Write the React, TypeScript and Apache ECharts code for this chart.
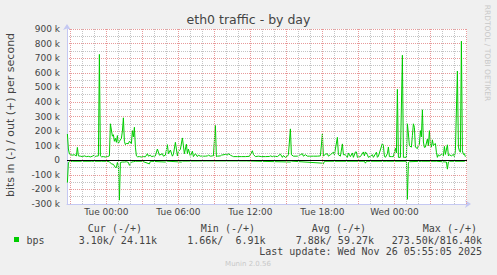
import { useEffect, useRef } from 'react';
import * as echarts from 'echarts';

// Time in minutes relative to Tue 00:00 (5-minute samples), values in kbit/s
const outData: [number, number][] = [
  [-195, 180], [-190, 77], [-185, 43], [-180, 38], [-170, 35], [-160, 38], [-150, 30], [-145, 88], [-140, 30],
  [-130, 28], [-120, 25], [-110, 30], [-100, 25], [-90, 27], [-80, 23], [-70, 28], [-60, 35], [-55, 25], [-50, 28],
  [-40, 30], [-35, 726], [-30, 30], [-25, 24], [-15, 25], [-5, 22], [5, 25], [15, 30], [20, 250], [30, 165],
  [35, 175], [40, 130], [45, 150], [50, 123], [55, 169], [60, 114], [65, 130], [75, 150], [80, 200], [85, 291],
  [90, 130], [95, 107], [100, 115], [110, 114], [115, 130], [125, 114], [130, 203], [135, 160], [140, 226],
  [145, 90], [150, 30], [155, 24], [165, 25], [175, 22], [185, 25], [195, 24], [205, 45], [210, 28], [220, 35],
  [225, 25], [235, 28], [245, 30], [255, 77], [265, 35], [280, 45], [285, 28], [295, 35], [305, 107], [310, 45],
  [320, 70], [330, 28], [335, 40], [345, 123], [355, 30], [360, 60], [370, 75], [380, 153], [390, 45], [400, 110],
  [405, 45], [410, 77], [420, 28], [430, 62], [435, 25], [445, 45], [455, 25], [460, 35], [470, 28], [480, 30],
  [485, 28], [495, 28], [505, 30], [510, 35], [520, 28], [530, 30], [535, 30], [545, 238], [550, 25], [555, 28],
  [570, 30], [575, 35], [595, 40], [605, 35], [610, 45], [620, 35], [630, 28], [635, 25], [655, 25], [675, 25],
  [695, 25], [715, 27], [730, 65], [735, 40], [745, 25], [760, 28], [775, 25], [795, 25], [815, 26], [820, 30],
  [830, 25], [835, 28], [845, 27], [855, 25], [870, 42], [880, 20], [885, 32], [895, 20], [905, 28], [910, 38],
  [920, 215], [925, 38], [935, 28], [955, 28], [970, 38], [980, 45], [985, 28], [995, 38], [1005, 28], [1015, 28],
  [1035, 28], [1055, 28], [1070, 30], [1080, 180], [1085, 28], [1095, 42], [1105, 45], [1110, 28], [1120, 38],
  [1135, 55], [1140, 38], [1155, 157], [1160, 38], [1170, 28], [1180, 112], [1185, 38], [1195, 38], [1205, 20],
  [1210, 50], [1220, 25], [1230, 50], [1235, 20], [1245, 57], [1250, 57], [1255, 20], [1270, 25], [1285, 57],
  [1290, 30], [1295, 57], [1305, 38], [1310, 20], [1320, 28], [1330, 38], [1335, 20], [1350, 55], [1355, 20],
  [1360, 28], [1380, 116], [1385, 100], [1390, 28], [1395, 20], [1405, 45], [1410, 91], [1415, 25], [1425, 25],
  [1435, 25], [1445, 82], [1450, 50], [1455, 486], [1460, 20], [1470, 20], [1480, 720], [1485, 20], [1490, 20],
  [1500, 20], [1505, 250], [1510, 180], [1515, 100], [1525, 90], [1530, 170], [1535, 250], [1540, 226], [1545, 90],
  [1555, 80], [1560, 100], [1565, 110], [1570, 203], [1575, 160], [1580, 346], [1585, 125], [1590, 88], [1595, 90],
  [1605, 145], [1610, 100], [1615, 203], [1620, 110], [1625, 90], [1630, 140], [1635, 100], [1640, 110], [1645, 115],
  [1650, 55], [1655, 20], [1660, 38], [1665, 30], [1675, 40], [1685, 30], [1690, 95], [1695, 40], [1705, 106],
  [1710, 30], [1715, 38], [1725, 30], [1735, 40], [1740, 25], [1745, 65], [1755, 612], [1760, 90], [1765, 65],
  [1770, 55], [1775, 816.4], [1780, 65], [1785, 40], [1790, 45], [1795, 24.11],
];

const inData: [number, number][] = [
  [-195, -153], [-190, -15], [-185, -10], [-170, -7], [-125, -7], [-75, -7], [-25, -7], [0, -7], [15, -10],
  [25, -25], [35, -28], [45, -50], [50, -50], [55, -15], [60, -40], [65, -273.5], [70, -15], [80, -12], [90, -12],
  [100, -10], [110, -15], [115, -35], [125, -12], [135, -10], [145, -7], [180, -7], [215, -25], [220, -7],
  [295, -12], [300, -6], [375, -12], [380, -6], [500, -5], [700, -5], [920, -12], [925, -6], [1080, -20],
  [1085, -25], [1090, -7], [1290, -7], [1295, -20], [1300, -7], [1400, -7], [1500, -7], [1505, -268], [1510, -15],
  [1515, -10], [1575, -7], [1650, -7], [1700, -12], [1705, -61], [1710, -12], [1715, -7], [1790, -7], [1795, -3.1],
];

const xTickMinutes = [0, 360, 720, 1080, 1440];
const xTickLabels = ['Tue 00:00', 'Tue 06:00', 'Tue 12:00', 'Tue 18:00', 'Wed 00:00'];

const legendHeaders = ['Cur (-/+)', 'Min (-/+)', 'Avg (-/+)', 'Max (-/+)'];
const legendValues = ['3.10k/ 24.11k', '1.66k/  6.91k', '7.88k/ 59.27k', '273.50k/816.40k'];

const TITLE = 'eth0 traffic - by day';
const Y_NAME = 'bits in (-) / out (+) per second';
const LAST_UPDATE = 'Last update: Wed Nov 26 05:55:05 2025';

const GREEN = '#00cc00';
const RED_GRID = '#e89a9a';
const GRAY_GRID = '#c4c4c4';
const AXIS = '#c4c8f2';
const TEXT = '#444444';
const SANS = '"DejaVu Sans", sans-serif';
const MONO = '"DejaVu Sans Mono", monospace';

function txt(x: number, y: number, text: string, font: string, fill: string, align = 'left', rotation = 0) {
  return {
    type: 'text',
    x,
    y,
    rotation,
    silent: true,
    style: { text, font, fill, align, verticalAlign: 'middle', textAlign: align, textVerticalAlign: 'middle' },
  };
}

export default function App() {
  const ref = useRef<HTMLDivElement>(null);
  useEffect(() => {
    document.body.style.margin = '0';
    const chart = echarts.init(ref.current!, undefined, { renderer: 'svg' });

    const gridLines: any[] = [];
    for (let m = -180; m <= 1800; m += 60) {
      gridLines.push({
        xAxis: m,
        lineStyle: { color: m % 180 === 0 ? RED_GRID : GRAY_GRID, type: [1, 1], width: 1 },
      });
    }

    const headerRight = [142, 255, 366, 477];
    const valueRight = [157, 265.5, 374, 482];

    const graphic: any[] = [
      txt(248.5, 19.5, TITLE, `12.5px ${SANS}`, TEXT, 'center'),
      txt(10, 115, Y_NAME, `11px ${SANS}`, TEXT, 'center', Math.PI / 2),
      txt(487.5, 53, 'RRDTOOL / TOBI OETIKER', `7.5px ${SANS}`, '#c8c8c8', 'center', -Math.PI / 2),
      { type: 'rect', shape: { x: 14, y: 237, width: 5, height: 5 }, style: { fill: GREEN }, silent: true },
      txt(26.5, 240, 'bps', `10px ${MONO}`, TEXT, 'left'),
      txt(482, 251.5, LAST_UPDATE, `10px ${MONO}`, TEXT, 'right'),
      txt(248, 264, 'Munin 2.0.56', `7px ${SANS}`, '#c8c8c8', 'center'),
    ];
    legendHeaders.forEach((h, i) => graphic.push(txt(headerRight[i], 228, h, `10px ${MONO}`, TEXT, 'right')));
    legendValues.forEach((v, i) => graphic.push(txt(valueRight[i], 240, v, `10px ${MONO}`, TEXT, 'right')));

    chart.setOption({
      animation: false,
      backgroundColor: '#f0f0f0',
      grid: { left: 67, top: 29, width: 400, height: 175, show: true, backgroundColor: '#ffffff', borderWidth: 0 },
      xAxis: {
        type: 'value',
        min: -197,
        max: 1803,
        axisLine: {
          show: true,
          onZero: false,
          lineStyle: { color: AXIS, width: 1 },
          symbol: ['none', 'arrow'],
          symbolSize: [6, 6],
          symbolOffset: [0, 4],
        },
        axisTick: { show: false },
        splitLine: { show: false },
        axisLabel: {
          customValues: xTickMinutes,
          formatter: (v: number) => xTickLabels[xTickMinutes.indexOf(v)] ?? '',
          margin: 3,
          color: TEXT,
          fontSize: 9,
          fontFamily: SANS,
        },
      },
      yAxis: {
        type: 'value',
        min: -300,
        max: 900,
        interval: 100,
        axisLine: {
          show: true,
          onZero: false,
          lineStyle: { color: AXIS, width: 1 },
          symbol: ['none', 'arrow'],
          symbolSize: [6, 6],
          symbolOffset: [0, 5],
        },
        axisTick: { show: false },
        axisLabel: {
          formatter: (v: number) => (v === 0 ? '0' : `${v} k`),
          margin: 7,
          color: TEXT,
          fontSize: 9,
          fontFamily: SANS,
        },
        splitLine: { show: true, lineStyle: { color: RED_GRID, type: [1, 1], width: 1 } },
        minorTick: { show: false, splitNumber: 2 },
        minorSplitLine: { show: true, lineStyle: { color: GRAY_GRID, type: [1, 1], width: 1 } },
      },
      graphic,
      series: [
        {
          type: 'line',
          name: 'grid',
          data: [],
          z: 1,
          silent: true,
          markLine: { silent: true, symbol: 'none', label: { show: false }, animation: false, data: gridLines },
        },
        {
          type: 'line',
          name: 'in',
          data: inData,
          z: 3,
          showSymbol: false,
          silent: true,
          lineStyle: { color: GREEN, width: 1 },
          itemStyle: { color: GREEN },
        },
        {
          type: 'line',
          name: 'out',
          data: outData,
          z: 3,
          showSymbol: false,
          silent: true,
          lineStyle: { color: GREEN, width: 1 },
          itemStyle: { color: GREEN },
          markLine: {
            silent: true,
            symbol: 'none',
            label: { show: false },
            animation: false,
            data: [{ yAxis: 0, lineStyle: { color: '#000000', type: 'solid', width: 1.2 } }],
          },
        },
      ],
    });
    return () => chart.dispose();
  }, []);
  return <div ref={ref} style={{ width: 497, height: 275 }} />;
}
